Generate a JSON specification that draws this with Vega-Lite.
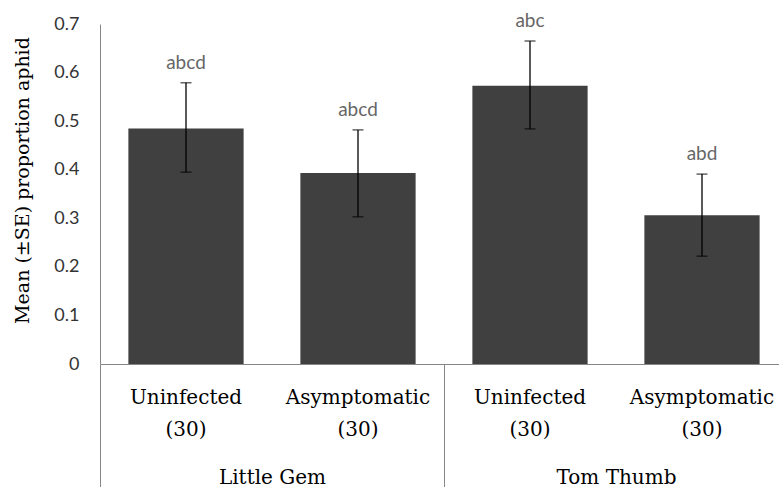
{
  "$schema": "https://vega.github.io/schema/vega-lite/v6.json",
  "width": 688,
  "height": 340,
  "autosize": {"type": "none"},
  "padding": {"left": 100, "top": 24, "right": 0, "bottom": 123},
  "background": "white",
  "config": {
    "view": {"stroke": null},
    "axisX": {"labelFont": "DejaVu Serif", "labelFontSize": 20, "labelColor": "#000000"},
    "axisY": {
      "values": [0, 0.1, 0.2, 0.3, 0.4, 0.5, 0.6, 0.7],
      "labelExpr": "datum.value == 0 ? '0' : format(datum.value, '.1f')",
      "grid": false, "ticks": false,
      "domainColor": "#868686", "domainWidth": 1,
      "labelFont": "Lato", "labelFontSize": 18, "labelColor": "#333333", "labelPadding": 21,
      "titleFont": "DejaVu Serif", "titleFontSize": 19, "titleFontWeight": "normal",
      "titleColor": "#000000", "titlePadding": 21, "titleY": 156
    }
  },
  "data": {
    "values": [
      {"cultivar": "Little Gem", "bar": "Little Gem|Uninfected|(30)", "mean": 0.485, "lo": 0.395, "hi": 0.579, "letters": "abcd"},
      {"cultivar": "Little Gem", "bar": "Little Gem|Asymptomatic|(30)", "mean": 0.393, "lo": 0.303, "hi": 0.482, "letters": "abcd"},
      {"cultivar": "Tom Thumb", "bar": "Tom Thumb|Uninfected|(30)", "mean": 0.573, "lo": 0.484, "hi": 0.665, "letters": "abc"},
      {"cultivar": "Tom Thumb", "bar": "Tom Thumb|Asymptomatic|(30)", "mean": 0.306, "lo": 0.222, "hi": 0.391, "letters": "abd"}
    ]
  },
  "layer": [
    {
      "mark": {"type": "bar", "opacity": 0},
      "encoding": {
        "x": {
          "field": "cultivar", "type": "nominal", "sort": null,
          "scale": {"paddingInner": 0, "paddingOuter": 0},
          "axis": {
            "title": null, "orient": "bottom", "labelAngle": 0,
            "tickBand": "extent", "tickSize": 123, "tickColor": "#868686", "tickWidth": 1,
            "domainColor": "#868686", "domainWidth": 1,
            "labelPadding": -20, "labelFont": "DejaVu Serif", "labelFontSize": 20,
            "labelColor": "#000000"
          }
        },
        "y": {
          "field": "mean", "type": "quantitative",
          "scale": {"domain": [0, 0.7], "nice": false, "zero": true},
          "title": "Mean (±SE) proportion aphid"
        }
      }
    },
    {
      "encoding": {
        "x": {
          "field": "bar", "type": "nominal", "sort": null,
          "scale": {"paddingInner": 0.33, "paddingOuter": 0.165},
          "axis": {
            "title": null, "orient": "bottom", "labelAngle": 0,
            "domain": false, "ticks": false,
            "labelExpr": "slice(split(datum.label, '|'), 1)",
            "labelPadding": 23, "labelLineHeight": 32,
            "labelFont": "DejaVu Serif", "labelFontSize": 20, "labelColor": "#000000"
          }
        }
      },
      "layer": [
        {
          "mark": {"type": "bar", "color": "#404040"},
          "encoding": {
            "y": {"field": "mean", "type": "quantitative", "title": "Mean (±SE) proportion aphid"}
          }
        },
        {
          "mark": {"type": "rule", "color": "#000000", "strokeWidth": 1.3},
          "encoding": {
            "y": {"field": "lo", "type": "quantitative", "title": "Mean (±SE) proportion aphid"},
            "y2": {"field": "hi"}
          }
        },
        {
          "mark": {"type": "tick", "color": "#000000", "size": 11, "thickness": 1.3},
          "encoding": {
            "y": {"field": "lo", "type": "quantitative", "title": "Mean (±SE) proportion aphid"}
          }
        },
        {
          "mark": {"type": "tick", "color": "#000000", "size": 11, "thickness": 1.3},
          "encoding": {
            "y": {"field": "hi", "type": "quantitative", "title": "Mean (±SE) proportion aphid"}
          }
        },
        {
          "mark": {"type": "text", "font": "Lato", "fontSize": 19, "color": "#666666", "baseline": "alphabetic", "dy": -14},
          "encoding": {
            "y": {"field": "hi", "type": "quantitative", "title": "Mean (±SE) proportion aphid"},
            "text": {"field": "letters"}
          }
        }
      ]
    }
  ],
  "resolve": {"scale": {"x": "independent"}, "axis": {"x": "independent"}}
}
